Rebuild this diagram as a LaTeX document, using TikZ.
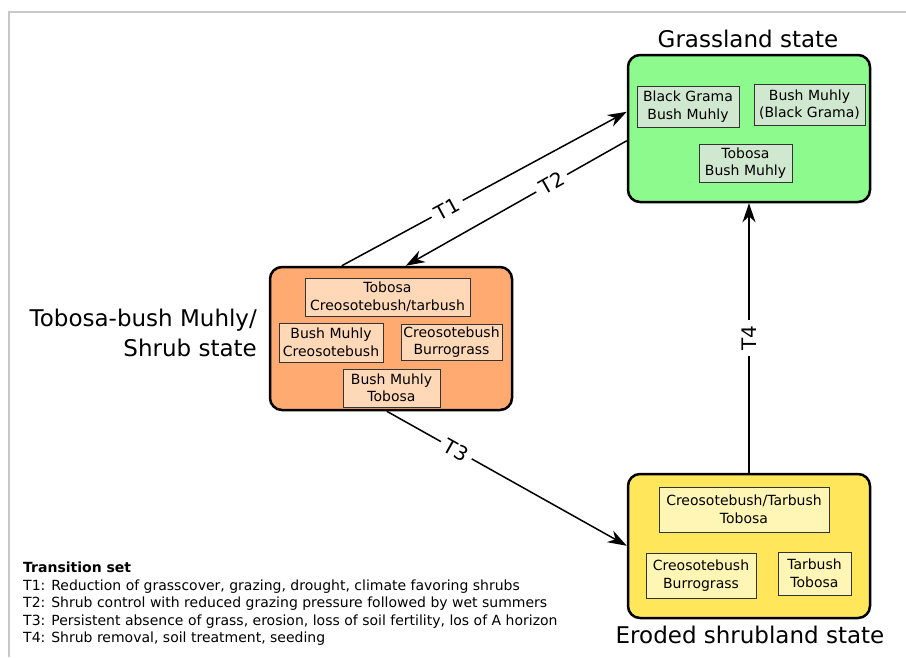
\documentclass[tikz,border=0pt]{standalone}
\usepackage{fontspec}
\setmainfont{DejaVu Sans}
\usetikzlibrary{arrows.meta,calc}

\definecolor{grassfill}{RGB}{140,250,140}
\definecolor{grassin}{RGB}{208,232,208}
\definecolor{shrubfill}{RGB}{255,170,112}
\definecolor{shrubin}{RGB}{255,216,184}
\definecolor{erodfill}{RGB}{255,230,90}
\definecolor{erodin}{RGB}{255,245,180}
\definecolor{framegray}{RGB}{200,200,200}

\begin{document}
\begin{tikzpicture}[x=1pt,y=-1pt,
  statebox/.style={draw=black, line width=2.5pt, rounded corners=12pt,
    minimum width=242pt, inner sep=0pt},
  community/.style={draw=black!80, line width=0.9pt, inner sep=0pt, align=center,
    font=\fontsize{14}{17.5}\selectfont},
  title/.style={font=\fontsize{23}{30}\selectfont, inner sep=0pt},
  trans/.style={line width=1.5pt},
  transarrow/.style={trans, -{Stealth[length=19pt,width=13pt,inset=6pt]}},
  translabel/.style={sloped, inner sep=5pt, font=\fontsize{20}{22}\selectfont}
]
\useasboundingbox (0,0) rectangle (906,657);
% outer frame
\draw[framegray, line width=1.5pt] (9,657) -- (9,12) -- (906,12);

% Grassland state
\node[statebox, fill=grassfill, minimum height=147pt] (grass) at (749,128.5) {};
\node[title] (grasst) at (748,39) {Grassland state};
\node[community, fill=grassin, minimum width=102pt, minimum height=41pt] (g1) at (688,106.5) {Black Grama\\Bush Muhly};
\node[community, fill=grassin, minimum width=111pt, minimum height=41pt] (g2) at (809.5,104.5) {Bush Muhly\\(Black Grama)};
\node[community, fill=grassin, minimum width=93pt, minimum height=38pt] (g3) at (745.5,163) {Tobosa\\Bush Muhly};

% Tobosa-bush Muhly / Shrub state
\node[statebox, fill=shrubfill, minimum height=143pt] (shrub) at (391,338.5) {};
\node[title, align=right, anchor=east, font=\fontsize{23}{30}\selectfont] (shrubt) at (257,333) {Tobosa-bush Muhly/\\Shrub state};
\node[community, fill=shrubin, minimum width=165pt, minimum height=38pt] (s1) at (387.5,297) {Tobosa\\Creosotebush/tarbush};
\node[community, fill=shrubin, minimum width=104pt, minimum height=39pt] (s2) at (331,342.5) {Bush Muhly\\Creosotebush};
\node[community, fill=shrubin, minimum width=101pt, minimum height=36pt] (s3) at (451.5,342) {Creosotebush\\Burrograss};
\node[community, fill=shrubin, minimum width=97pt, minimum height=38pt] (s4) at (391.5,388) {Bush Muhly\\Tobosa};

% Eroded shrubland state
\node[statebox, fill=erodfill, minimum height=144pt] (erod) at (749,546) {};
\node[title] (erodt) at (750,635) {Eroded shrubland state};
\node[community, fill=erodin, minimum width=170pt, minimum height=45pt] (e1) at (744,509.5) {Creosotebush/Tarbush\\Tobosa};
\node[community, fill=erodin, minimum width=110pt, minimum height=45pt] (e2) at (701,575.5) {Creosotebush\\Burrograss};
\node[community, fill=erodin, minimum width=73pt, minimum height=43pt] (e3) at (814.5,573.5) {Tarbush\\Tobosa};

% attachment points on the state boxes
\coordinate (t1a) at ($(shrub.north west)+(73,0)$);
\coordinate (t1b) at ($(grass.north west)+(0,58)$);
\coordinate (t2a) at ($(grass.north west)+(0,87)$);
\coordinate (t2b) at ($(shrub.north west)+(137,0)$);
\coordinate (t3a) at ($(shrub.south west)+(118,0)$);
\coordinate (t3b) at ($(erod.north west)+(0,73)$);

% transition labels, sitting in gaps of their connectors
\path (t1a) -- node[translabel, pos=0.37] (l1) {T1} (t1b);
\path (t2a) -- node[translabel, pos=0.34] (l2) {T2} (t2b);
\path (t3a) -- node[translabel, pos=0.29] (l3) {T3} (t3b);
\path (erod.north) -- node[translabel, pos=0.5] (l4) {T4} (grass.south);

% transitions
\draw[trans] (t1a) -- (l1);
\draw[transarrow] (l1) -- (t1b);
\draw[trans] (t2a) -- (l2);
\draw[transarrow] (l2) -- (t2b);
\draw[trans] (t3a) -- (l3);
\draw[transarrow] (l3) -- (t3b);
\draw[trans] (erod.north) -- (l4);
\draw[transarrow] (l4) -- (grass.south);

% legend
\node[anchor=north west, align=left, inner sep=0pt, font=\fontsize{14}{17.5}\selectfont] (legend) at (23,562)
  {\textbf{Transition set}\\
   T1: Reduction of grasscover, grazing, drought, climate favoring shrubs\\
   T2: Shrub control with reduced grazing pressure followed by wet summers\\
   T3: Persistent absence of grass, erosion, loss of soil fertility, los of A horizon\\
   T4: Shrub removal, soil treatment, seeding};
\end{tikzpicture}
\end{document}
